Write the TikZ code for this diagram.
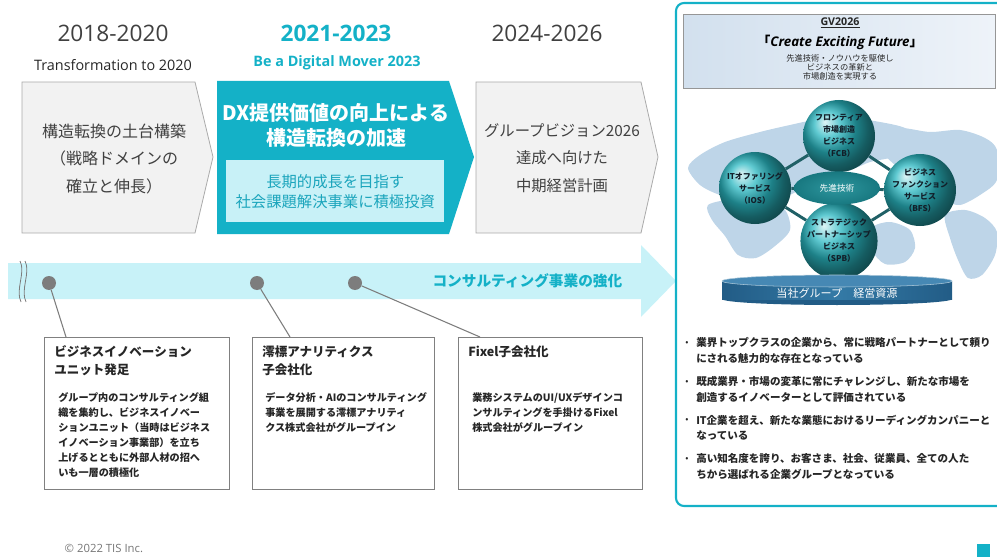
\documentclass[tikz,border=0pt]{standalone}
\usepackage{fontspec}
\setmainfont{Noto Sans CJK JP}
\newfontfamily\latinfont{Open Sans}
\usepackage{tikz}
\usetikzlibrary{shapes.geometric,backgrounds}

\definecolor{tiscyan}{RGB}{20,177,199}
\definecolor{bandcyan}{RGB}{200,242,248}
\definecolor{innercyan}{RGB}{200,241,247}
\definecolor{innerink}{RGB}{27,165,188}
\definecolor{chevgray}{RGB}{242,242,242}
\definecolor{chevline}{RGB}{170,170,170}
\definecolor{inkgray}{RGB}{64,64,64}
\definecolor{inkdark}{RGB}{38,38,38}
\definecolor{boxgray}{RGB}{128,128,128}
\definecolor{dotgray}{RGB}{125,125,125}
\definecolor{footgray}{RGB}{118,118,118}
\definecolor{mapblue}{RGB}{190,213,232}
\definecolor{ballteal}{RGB}{42,184,194}
\definecolor{ballink}{RGB}{18,30,40}
\definecolor{bondteal}{RGB}{32,96,102}
\definecolor{coreteal}{RGB}{24,120,128}
\definecolor{coremid}{RGB}{45,150,158}
\definecolor{platdark}{RGB}{34,92,134}
\definecolor{platmid}{RGB}{52,122,166}
\definecolor{plattop}{RGB}{70,136,180}
\definecolor{gvleft}{RGB}{210,224,238}
\definecolor{gvright}{RGB}{238,243,249}
\definecolor{gvline}{RGB}{150,150,150}

\begin{document}
\begin{tikzpicture}
    [
    x=0.75pt, y=-0.75pt,
    year/.style={font=\latinfont\fontsize{17}{20}\selectfont, text=inkgray},
    motto/.style={font=\latinfont\fontsize{10.8}{12}\selectfont, text=inkdark},
    chevtext/.style={font=\fontsize{12}{20.6}\selectfont, text=inkgray, align=center},
    eventbox/.style={draw=boxgray, line width=1.1pt, fill=white, anchor=north west, inner sep=0pt, minimum height=114pt},
    eventtitle/.style={font=\bfseries\fontsize{9.4}{13.5}\selectfont, text=inkdark, align=left, anchor=north west, inner sep=0pt},
    eventbody/.style={font=\bfseries\fontsize{7.6}{11.25}\selectfont, text=inkdark, align=left, anchor=north west, inner sep=0pt},
    milestone/.style={circle, fill=dotgray, inner sep=0pt, minimum size=10.5pt},
    link/.style={draw=dotgray, line width=0.8pt},
    breakline/.style={draw=dotgray, line width=0.6pt},
    ball/.style={circle, ball color=ballteal, minimum size=54pt, inner sep=0pt, align=center, text=ballink, font=\bfseries\fontsize{6}{9}\selectfont},
    bond/.style={draw=bondteal, line width=2.2pt},
    vision/.style={font=\bfseries\fontsize{7.9}{11.6}\selectfont, text=inkdark, align=left, anchor=north west, inner sep=0pt},
    bullet/.style={font=\fontsize{7}{8}\selectfont, text=inkdark}
    ]
    \useasboundingbox (0,0) rectangle (997,560);

    % year headings
    \node (y1) at (113,33) [year] {2018-2020};
    \node (m1) at (113,65) [motto] {Transformation to 2020};
    \node (y2) at (336,33) [year, text=tiscyan, font=\latinfont\bfseries\fontsize{17}{20}\selectfont] {2021-2023};
    \node (m2) at (337,63) [motto, text=tiscyan, font=\latinfont\bfseries\fontsize{10.8}{12}\selectfont] {Be a Digital Mover 2023};
    \node (y3) at (547,33) [year] {2024-2026};

    % chevrons
    \draw [chevline, fill=chevgray, line width=0.6pt] (22,82) -- (195,82) -- (213,157) -- (195,233) -- (22,233) -- cycle;
    \fill [tiscyan] (217,81) -- (449,81) -- (474,157) -- (449,234) -- (217,234) -- cycle;
    \draw [chevline, fill=chevgray, line width=0.6pt] (476,82) -- (641,82) -- (658,157) -- (641,233) -- (476,233) -- cycle;

    \node (c1) at (114,159) [chevtext] {構造転換の土台構築\\（戦略ドメインの\\確立と伸長）};
    \node (c2) at (336,125) [align=center, text=white, font=\bfseries\fontsize{15}{18.75}\selectfont] {DX提供価値の向上による\\構造転換の加速};
    \node (c2sub) at (226,160) [anchor=north west, fill=innercyan, minimum width=163.5pt, minimum height=46.5pt, inner sep=0pt] {};
    \node (c2txt) at (c2sub.center) [align=center, text=innerink, font=\fontsize{11.5}{15}\selectfont] {長期的成長を目指す\\社会課題解決事業に積極投資};
    \node (c3) at (562,158) [chevtext, font=\fontsize{11.5}{20.6}\selectfont] {グループビジョン2026\\達成へ向けた\\中期経営計画};

    % timeline band
    \fill [bandcyan] (8,263) -- (641,263) -- (641,245) -- (676,281) -- (641,317) -- (641,299) -- (8,299) -- cycle;
    \draw [breakline] (20,261) .. controls (26,272) and (15,290) .. (21,302);
    \draw [breakline] (25,261) .. controls (31,272) and (20,290) .. (26,302);
    \node (band) at (627,281) [anchor=east, text=tiscyan, font=\bfseries\fontsize{11}{13}\selectfont] {コンサルティング事業の強化};

    \node (d1) at (49,283) [milestone] {};
    \node (d2) at (257,283) [milestone] {};
    \node (d3) at (355,283) [milestone] {};

    % event boxes
    \node (b1) at (44,337) [eventbox, minimum width=138.75pt] {};
    \node (b2) at (252,337) [eventbox, minimum width=136.5pt] {};
    \node (b3) at (458,337) [eventbox, minimum width=138pt] {};
    \coordinate (b1in) at (66,337);
    \coordinate (b2in) at (290,337);
    \coordinate (b3in) at (480,337);
    \draw [link] (d1) -- (b1in);
    \draw [link] (d2) -- (b2in);
    \draw [link] (d3) -- (b3in);

    \node (t1) at (54,345.5) [eventtitle] {ビジネスイノベーション\\ユニット発足};
    \node (t2) at (262,345.5) [eventtitle] {澪標アナリティクス\\子会社化};
    \node (t3) at (468,345.5) [eventtitle] {Fixel子会社化};
    \node (e1) at (58,392) [eventbody] {グループ内のコンサルティング組\\織を集約し、ビジネスイノベー\\ションユニット（当時はビジネス\\イノベーション事業部）を立ち\\上げるとともに外部人材の招へ\\いも一層の積極化};
    \node (e2) at (265,392) [eventbody] {データ分析・AIのコンサルティング\\事業を展開する澪標アナリティ\\クス株式会社がグループイン};
    \node (e3) at (472,392) [eventbody] {業務システムのUI/UXデザインコ\\ンサルティングを手掛けるFixel\\株式会社がグループイン};

    % vision panel
    \draw [tiscyan, line width=1.6pt, rounded corners=6pt] (676,3) rectangle (1030,506);
    \node (gv) at (683,14) [draw=gvline, left color=gvleft, right color=gvright, anchor=north west, minimum width=234pt, minimum height=55.5pt, inner sep=0pt] {};
    \node (gvname) at (840,23) [text=inkdark, font=\latinfont\bfseries\fontsize{8}{9}\selectfont] {\underline{GV2026}};
    \node (gvmotto) at (840,42) [text=black, font=\bfseries\fontsize{10}{12}\selectfont] {「{\latinfont\bfseries\itshape Create Exciting Future}」};
    \node (gvtext) at (840,67.5) [align=center, text=inkdark, font=\fontsize{6.2}{6.75}\selectfont] {先進技術・ノウハウを駆使し\\ビジネスの革新と\\市場創造を実現する};

    % business model
    \node (fcb) at (839,136) [ball] {フロンティア\\市場創造\\ビジネス\\（FCB）};
    \node (ios) at (755,188) [ball] {ITオファリング\\サービス\\（IOS）};
    \node (bfs) at (920,190) [ball] {ビジネス\\ファンクション\\サービス\\（BFS）};
    \node (spb) at (839,241) [ball] {ストラテジック\\パートナーシップ\\ビジネス\\（SPB）};
    \node (core) at (837,188) [ellipse, inner color=coremid, outer color=coreteal, minimum width=64.5pt, minimum height=25pt, text=white, font=\fontsize{6.5}{8}\selectfont] {先進技術};

    \begin{pgfonlayer}{background}
      % world map behind the model
      \fill [mapblue] plot [smooth cycle] coordinates {(688,168) (700,155) (725,142) (760,132) (790,125) (815,120) (850,118) (880,122) (905,128) (918,140) (908,152) (890,158) (870,162) (850,170) (820,175) (805,185) (790,195) (770,198) (745,200) (720,195) (700,185)};
      \fill [mapblue] plot [smooth cycle] coordinates {(708,205) (735,199) (765,201) (785,210) (790,230) (775,246) (756,258) (738,255) (725,236) (712,220)};
      \fill [mapblue] plot [smooth cycle] coordinates {(875,135) (900,128) (930,132) (960,130) (985,138) (997,150) (997,180) (980,195) (960,205) (945,200) (930,185) (910,175) (895,165) (880,150)};
      \fill [mapblue] plot [smooth cycle] coordinates {(945,215) (965,210) (985,218) (997,232) (995,255) (982,275) (968,278) (958,260) (950,238)};
      \fill [mapblue] plot [smooth cycle] coordinates {(872,228) (890,222) (910,230) (915,248) (905,262) (885,264) (872,250)};
      \draw [bond] (fcb) -- (ios);
      \draw [bond] (fcb) -- (bfs);
      \draw [bond] (ios) -- (spb);
      \draw [bond] (bfs) -- (spb);
      \draw [bond] (fcb) -- (spb);
      \draw [bond] (ios) -- (bfs);
    \end{pgfonlayer}

    \node (platbase) at (837,299) [ellipse, fill=platdark, minimum width=172.5pt, minimum height=9pt, inner sep=0pt] {};
    \shade [left color=platdark, right color=platdark, middle color=platmid] (722,281) rectangle (952,299);
    \node (plattop) at (837,281) [ellipse, fill=plattop, draw=platmid!40!white, line width=0.4pt, minimum width=172.5pt, minimum height=9pt, inner sep=0pt] {};
    \node (res) at (837,293) [text=white, font=\fontsize{8.3}{10}\selectfont] {当社グループ　経営資源};

    % vision statements
    \node (p1) at (687,343) [bullet] {•};
    \node (p2) at (687,382) [bullet] {•};
    \node (p3) at (687,420) [bullet] {•};
    \node (p4) at (687,459) [bullet] {•};
    \node (v1) at (696,337.5) [vision] {業界トップクラスの企業から、常に戦略パートナーとして頼り\\にされる魅力的な存在となっている};
    \node (v2) at (696,376.5) [vision] {既成業界・市場の変革に常にチャレンジし、新たな市場を\\創造するイノベーターとして評価されている};
    \node (v3) at (696,414.5) [vision] {IT企業を超え、新たな業態におけるリーディングカンパニーと\\なっている};
    \node (v4) at (696,453.5) [vision] {高い知名度を誇り、お客さま、社会、従業員、全ての人た\\ちから選ばれる企業グループとなっている};

    % footer
    \node (copy) at (60,548) [anchor=west, text=footgray, font=\latinfont\fontsize{8.5}{10}\selectfont] {© 2022 TIS Inc.};
    \fill [tiscyan] (977,544) rectangle (990,557);
\end{tikzpicture}
\end{document}
